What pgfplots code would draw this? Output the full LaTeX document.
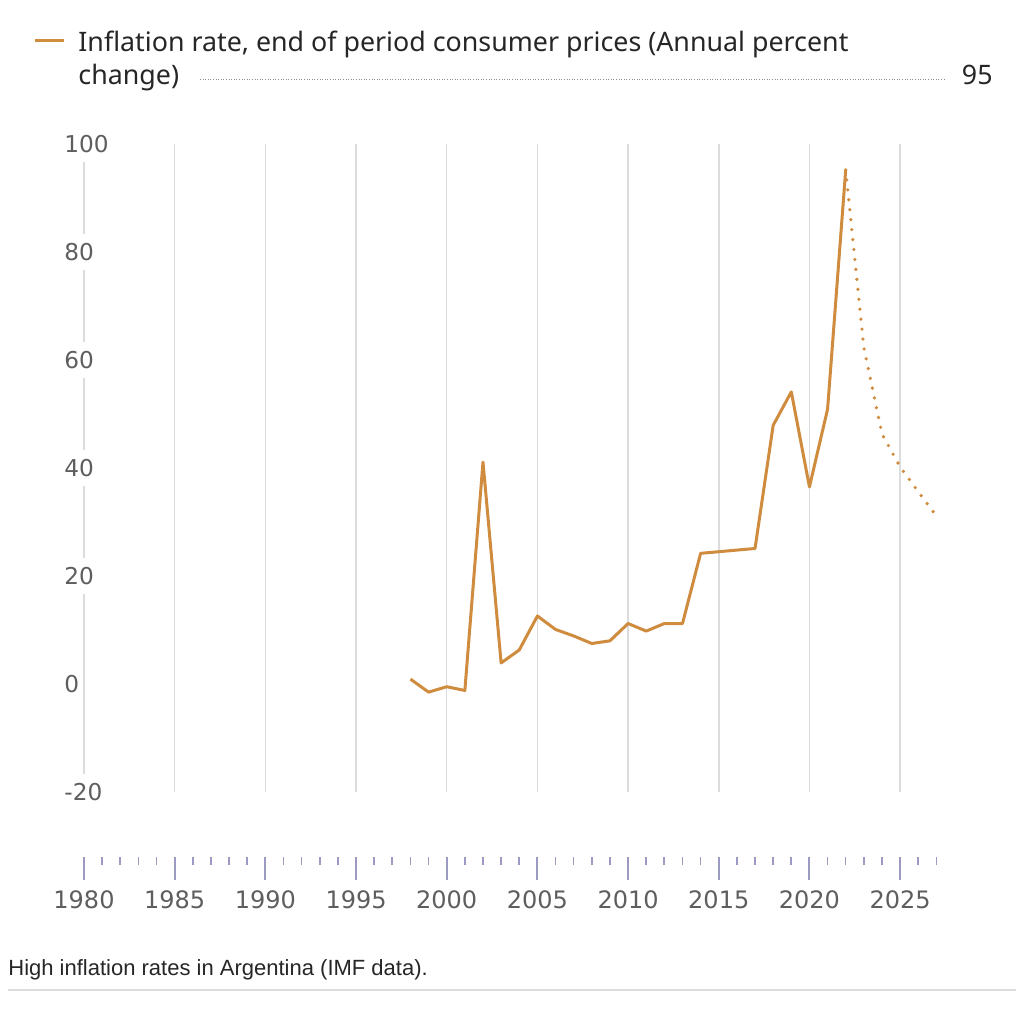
\documentclass[border=0pt]{standalone}
\usepackage{pgfplots}
\pgfplotsset{compat=1.18}
\usepackage{pgfplotstable}
\usepackage{fontspec}
\setmainfont{Noto Sans}
\newfontfamily\tickfont{DejaVu Sans}
\newfontfamily\capfont{Liberation Sans}
\definecolor{infl}{HTML}{CF8B3E}
\definecolor{gridc}{HTML}{DCDCDC}
\definecolor{tickc}{HTML}{9C9AC0}
\definecolor{labc}{HTML}{5E5E5E}

% end of period inflation, Argentina (IMF)
\pgfplotstableread{
year val
1998 0.9
1999 -1.5
2000 -0.5
2001 -1.2
2002 41.1
2003 3.9
2004 6.3
2005 12.6
2006 10.1
2007 8.9
2008 7.5
2009 8.0
2010 11.2
2011 9.8
2012 11.2
2013 11.2
2014 24.2
2015 24.5
2016 24.8
2017 25.1
2018 47.9
2019 54.1
2020 36.5
2021 50.9
2022 95.2
}\actual

% projections
\pgfplotstableread{
year val
2022 95.2
2023 62.3
2024 46.3
2025 40.2
2026 35.6
2027 31.1
}\proj

\begin{document}
\begin{tikzpicture}
\path[use as bounding box] (0,0) rectangle (512pt,-504pt);

\begin{axis}[
  at={(42pt,-396pt)}, anchor=south west,
  scale only axis, width=426.2pt, height=324pt,
  xmin=1980, xmax=2027, ymin=-20, ymax=100,
  clip=false,
  axis x line*=bottom, axis y line*=left,
  axis line style={draw=none},
  xtick={1980,1985,...,2025},
  minor xtick={1980,...,2027},
  ytick={-20,0,...,100},
  xmajorgrids, major x grid style={gridc, line width=0.75pt},
  tick align=outside,
  major tick length=11.5pt, minor tick length=4pt,
  x tick style={tickc, yshift=-32.5pt},
  major x tick style={line width=1pt},
  minor x tick style={line width=0.8pt},
  y tick style={draw=none},
  xticklabel style={font=\tickfont\fontsize{12}{14}\selectfont, text=labc, yshift=-34.5pt},
  yticklabel style={font=\tickfont\fontsize{11.6}{13}\selectfont, text=labc,
    anchor=west, xshift=0.5pt, fill=white, inner xsep=1pt, inner ysep=4.5pt},
  /pgf/number format/.cd, 1000 sep={}, assume math mode=true,
]
\addplot[infl, line width=1.5pt, line join=round] table[x=year, y=val] {\actual};
\addplot[infl, line width=1.8pt, line cap=round, dash pattern=on 0pt off 5pt] table[x=year, y=val] {\proj};
\end{axis}

% legend
\draw[infl, line width=1.5pt] (17.5pt,-20pt) -- (32pt,-20pt);
\node[anchor=base west, inner sep=0pt, font=\fontsize{13.4}{15}\selectfont, text=black!85]
  at (39pt,-25.5pt) {Inflation rate, end of period consumer prices (Annual percent};
\node[anchor=base west, inner sep=0pt, font=\fontsize{13.4}{15}\selectfont, text=black!85]
  at (39pt,-42pt) {change)};
\draw[black!45, line width=0.4pt, dash pattern=on 0.5pt off 0.8pt] (100pt,-39.5pt) -- (473pt,-39.5pt);
\node[anchor=base east, inner sep=0pt, font=\fontsize{13.4}{15}\selectfont, text=black!85]
  at (496.5pt,-42pt) {95};

% caption
\node[anchor=base west, inner sep=0pt, font=\capfont\fontsize{11}{13}\selectfont, text=black!85]
  at (4pt,-487.5pt) {High inflation rates in Argentina (IMF data).};
\draw[gridc, line width=1pt] (4pt,-495pt) -- (508pt,-495pt);
\end{tikzpicture}
\end{document}
